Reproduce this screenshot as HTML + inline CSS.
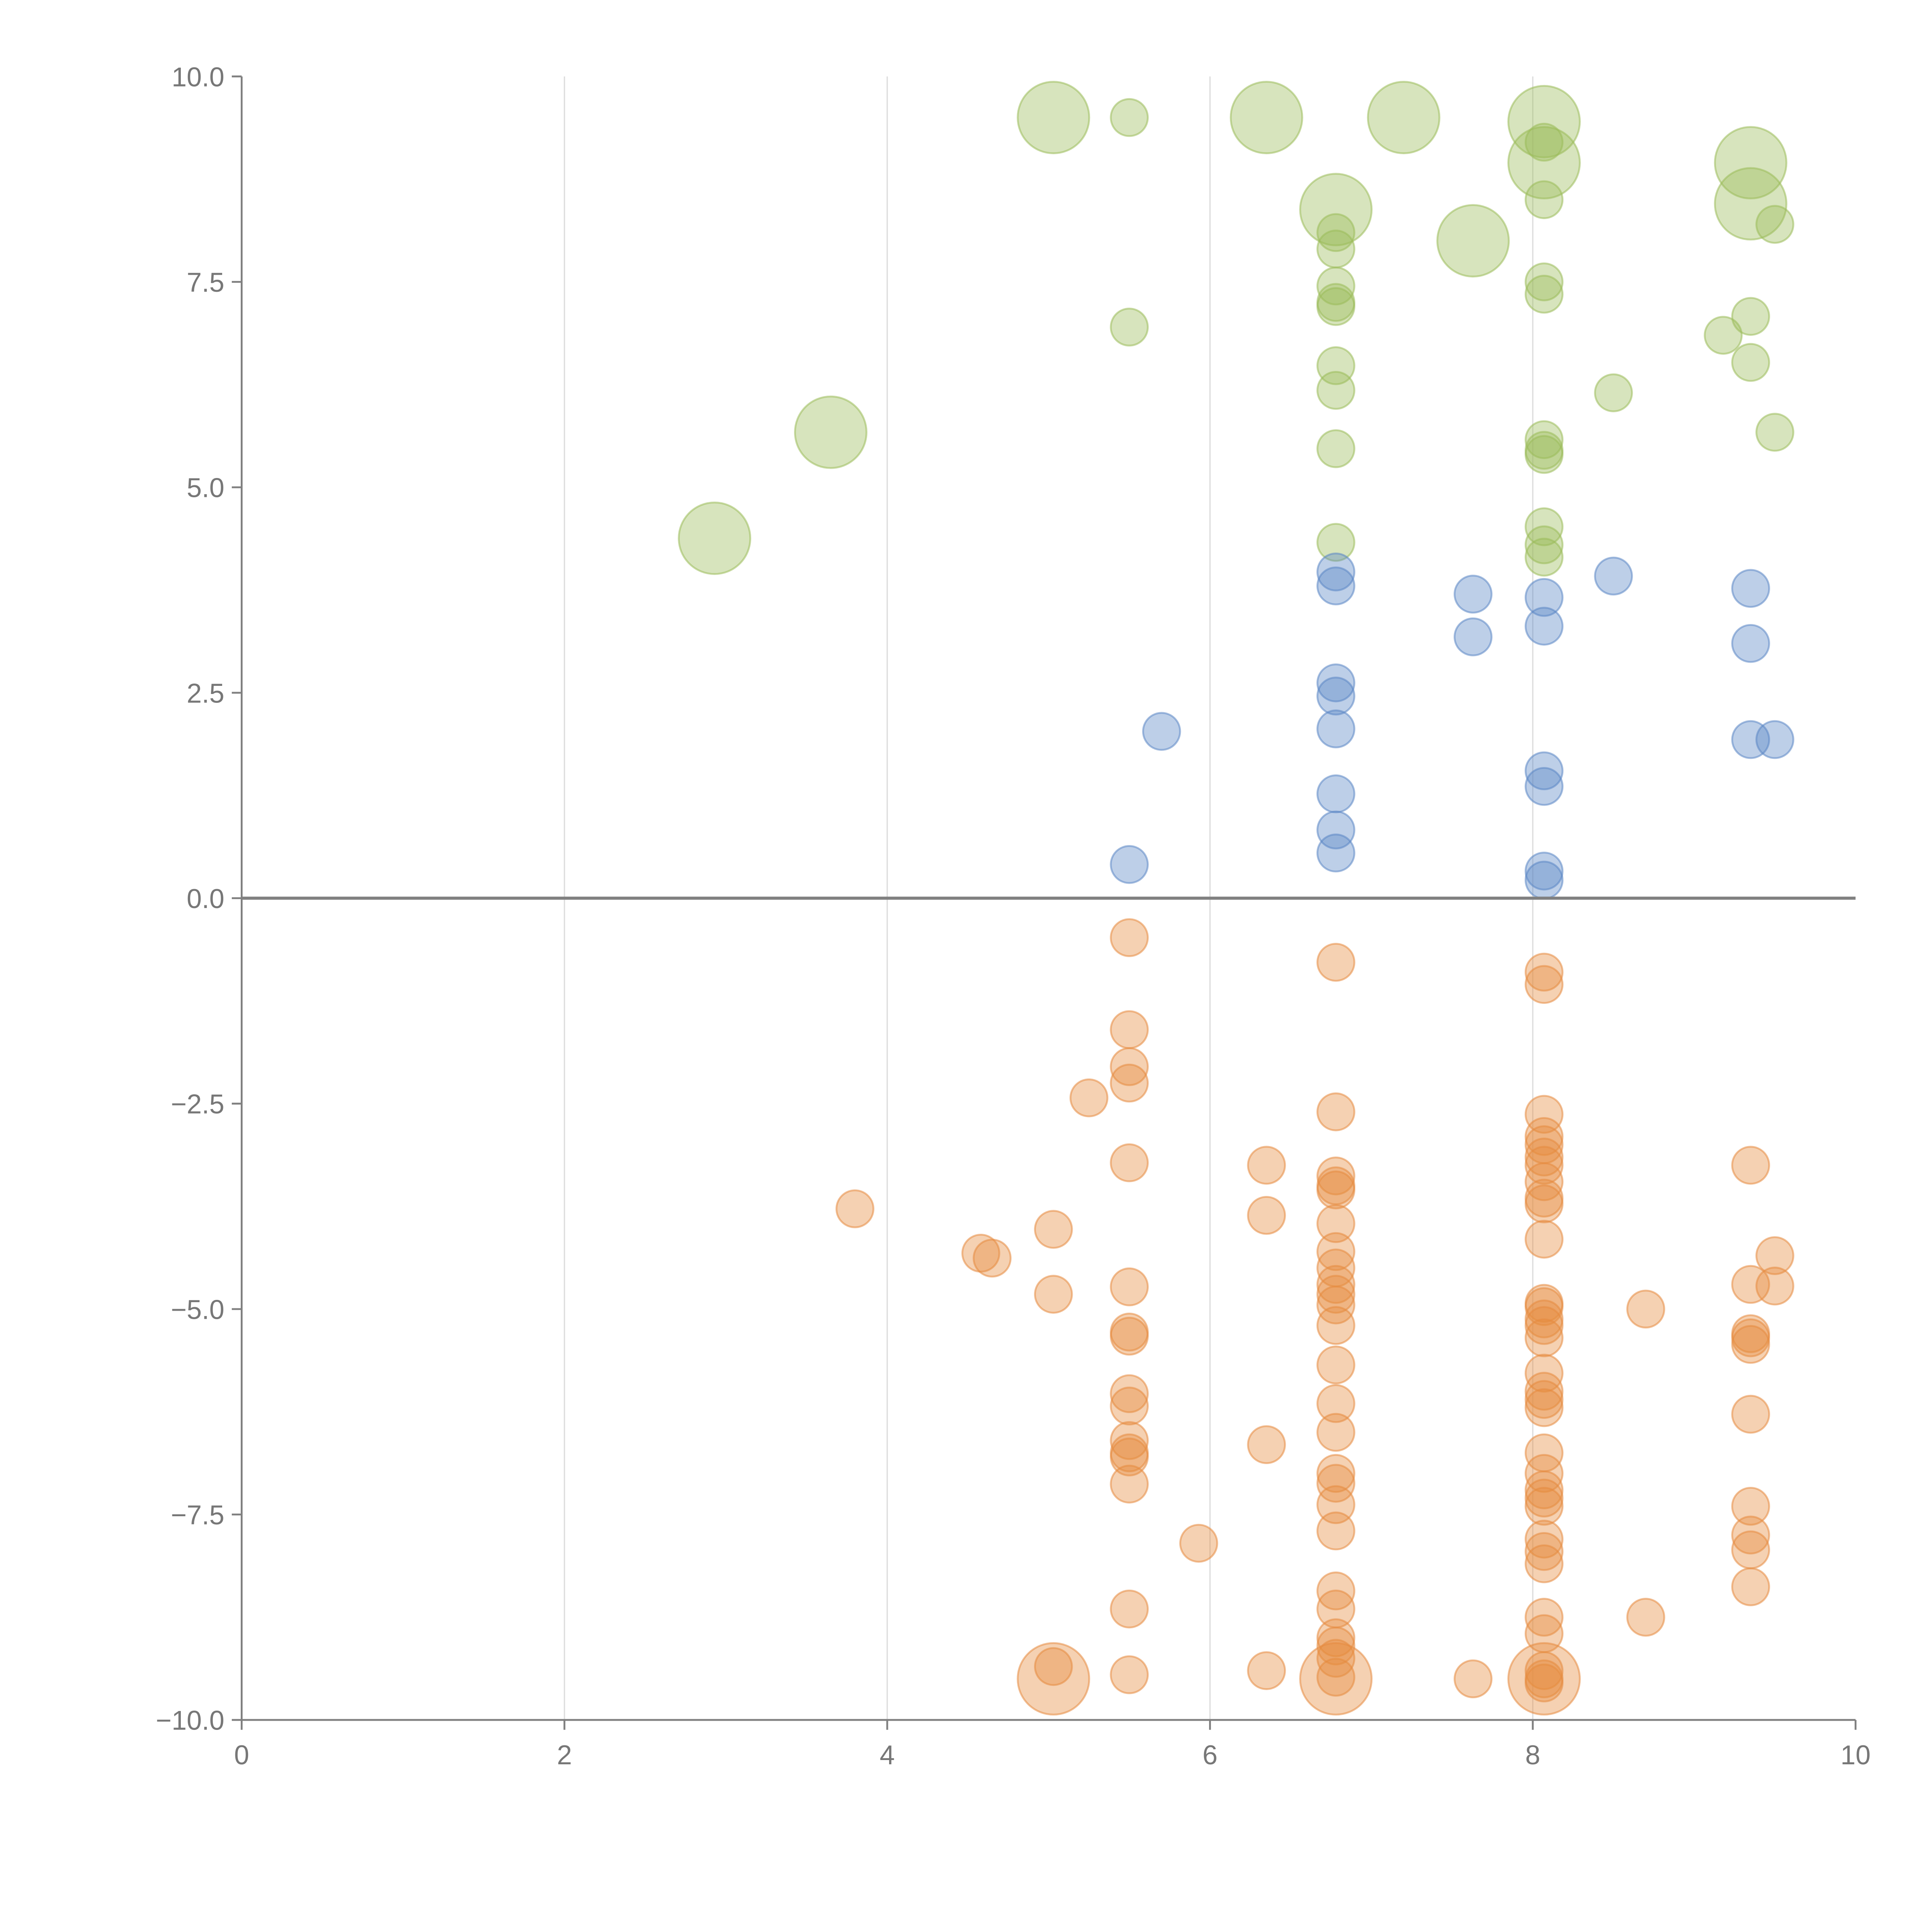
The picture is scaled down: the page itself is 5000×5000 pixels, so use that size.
<!DOCTYPE html>
<html><head><meta charset="utf-8"><style>
html,body{margin:0;padding:0;background:#fff;width:5000px;height:5000px;overflow:hidden}
svg{display:block}
text{font-family:"Liberation Sans",sans-serif;fill:#777}
</style></head><body>
<svg id="chart" width="5000" height="5000" viewBox="0 0 1567 1567" xmlns="http://www.w3.org/2000/svg">
<g id="grid"></g>
<g id="marks"></g>
<g id="axes"></g>
</svg>
<script>
const xTicks=[0,2,4,6,8,10];
const yTicks=[10,7.5,5,2.5,0,-2.5,-5,-7.5,-10];
const yTickLabels=["10.0","7.5","5.0","2.5","0.0","\u22122.5","\u22125.0","\u22127.5","\u221210.0"];
const greenX=[5.5,5.03,6.35,7.2,8.07,8.07,8.07,9.35,9.35,9.5,6.78,7.63,6.78,6.78,6.78,6.78,6.78,8.07,8.07,8.07,5.5,9.35,9.18,9.35,6.78,6.78,8.5,3.65,9.5,8.07,8.07,8.07,6.78,2.93,8.07,8.07,8.07,6.78];
const greenY=[9.5,9.5,9.5,9.5,9.45,8.95,9.2,8.95,8.45,8.2,8.38,8.0,8.1,7.9,7.45,7.25,7.2,8.5,7.5,7.35,6.95,7.08,6.85,6.52,6.48,6.18,6.15,5.67,5.67,5.58,5.45,5.4,5.47,4.38,4.52,4.3,4.15,4.33];
const greenBig=[0,1,1,1,1,1,0,1,1,0,1,1,0,0,0,0,0,0,0,0,0,0,0,0,0,0,0,1,0,0,0,0,0,1,0,0,0,0];
const blueX=[6.78,6.78,7.63,8.5,9.35,8.07,8.07,7.63,9.35,6.78,6.78,6.78,5.7,9.35,9.5,8.07,8.07,6.78,6.78,6.78,5.5,8.07,8.07];
const blueY=[3.97,3.8,3.7,3.92,3.77,3.66,3.31,3.18,3.1,2.62,2.46,2.06,2.03,1.93,1.93,1.55,1.36,1.27,0.83,0.55,0.41,0.33,0.22];
const orangeX=[5.5,6.78,8.07,8.07,5.5,5.5,5.5,5.25,6.78,8.07,8.07,8.07,8.07,8.07,5.5,6.35,9.35,6.78,6.78,6.78,8.07,8.07,8.07,3.8,6.35,6.78,5.03,8.07,6.78,4.58,4.65,9.5,6.78,5.5,6.78,9.35,9.5,6.78,5.03,6.78,8.07,8.07,8.7,8.07,8.07,6.78,5.5,5.5,9.35,9.35,9.35,8.07,6.78,8.07,5.5,8.07,8.07,5.5,6.78,8.07,9.35,6.78,5.5,6.35,5.5,5.5,8.07,6.78,8.07,6.78,5.5,8.07,8.07,8.07,6.78,9.35,6.78,9.35,8.07,5.93,9.35,8.07,8.07,6.78,9.35,5.5,6.78,8.07,8.7,8.07,6.78,6.78,6.78,8.07,5.03,6.35,5.5,6.78,8.07,7.63,8.07,5.03,6.78,8.07];
const orangeY=[-0.48,-0.78,-0.9,-1.05,-1.6,-2.05,-2.25,-2.43,-2.6,-2.63,-2.9,-3.0,-3.15,-3.25,-3.22,-3.25,-3.25,-3.38,-3.5,-3.55,-3.45,-3.65,-3.72,-3.78,-3.86,-3.96,-4.03,-4.15,-4.3,-4.32,-4.38,-4.35,-4.5,-4.73,-4.7,-4.7,-4.72,-4.82,-4.82,-4.95,-4.93,-4.97,-5.0,-5.12,-5.2,-5.2,-5.28,-5.33,-5.3,-5.35,-5.43,-5.35,-5.68,-5.78,-6.03,-6.0,-6.1,-6.18,-6.15,-6.2,-6.28,-6.5,-6.6,-6.65,-6.75,-6.8,-6.75,-7.0,-7.0,-7.12,-7.13,-7.2,-7.3,-7.4,-7.38,-7.4,-7.7,-7.75,-7.8,-7.85,-7.93,-7.95,-8.1,-8.43,-8.38,-8.65,-8.65,-8.75,-8.75,-8.95,-9.0,-9.1,-9.25,-9.4,-9.35,-9.4,-9.45,-9.48,-9.5,-9.5,-9.55,-9.5,-9.5,-9.5];
const orangeBig=orangeX.map((_,i)=>i>=orangeX.length-3?1:0);

const NS="http://www.w3.org/2000/svg";
const X0=196,X1=1505,Y0=1395,Y1=62;
const sx=v=>X0+(v-0)/(10-0)*(X1-X0);
const sy=v=>Y0-(v+10)/20*(Y0-Y1);
function mk(tag,attrs,parent){const e=document.createElementNS(NS,tag);for(const k in attrs)e.setAttribute(k,attrs[k]);parent.appendChild(e);return e;}
const grid=document.getElementById('grid'),marks=document.getElementById('marks'),axes=document.getElementById('axes');
xTicks.forEach(t=>{if(t>0&&t<10){const l=mk('line',{x1:sx(t),x2:sx(t),y1:Y1,y2:Y0,stroke:'#dcdcdc','stroke-width':1},grid);

}});
function series(xs,ys,big,color,name){xs.forEach((x,i)=>{const c=mk('circle',{cx:sx(x),cy:sy(ys[i]),r:big&&big[i]?29:15,fill:color,'fill-opacity':0.4,stroke:color,'stroke-opacity':0.55,'stroke-width':1.5},marks);

});}
series(greenX,greenY,greenBig,'#9bbb59','green-bubble');
series(blueX,blueY,null,'#5b87c5','blue-bubble');
series(orangeX,orangeY,orangeBig,'#e58b3f','orange-bubble');
const za=mk('line',{x1:X0,x2:X1,y1:sy(0),y2:sy(0),stroke:'#808080','stroke-width':2.5},axes);


const ya=mk('line',{x1:X0,x2:X0,y1:Y1,y2:Y0,stroke:'#808080','stroke-width':1.5},axes);


const xa=mk('line',{x1:X0,x2:X1,y1:Y0,y2:Y0,stroke:'#808080','stroke-width':1.5},axes);


xTicks.forEach(t=>{mk('line',{x1:sx(t),x2:sx(t),y1:Y0,y2:Y0+8,stroke:'#808080','stroke-width':1.5},axes);
const tx=mk('text',{x:sx(t),y:Y0+36,'text-anchor':'middle','font-size':22},axes);tx.textContent=t;

});
yTicks.forEach((t,i)=>{mk('line',{x1:X0-8,x2:X0,y1:sy(t),y2:sy(t),stroke:'#808080','stroke-width':1.5},axes);
const tx=mk('text',{x:X0-14,y:sy(t)+8,'text-anchor':'end','font-size':22},axes);tx.textContent=yTickLabels[i];

});
</script>
</body></html>
